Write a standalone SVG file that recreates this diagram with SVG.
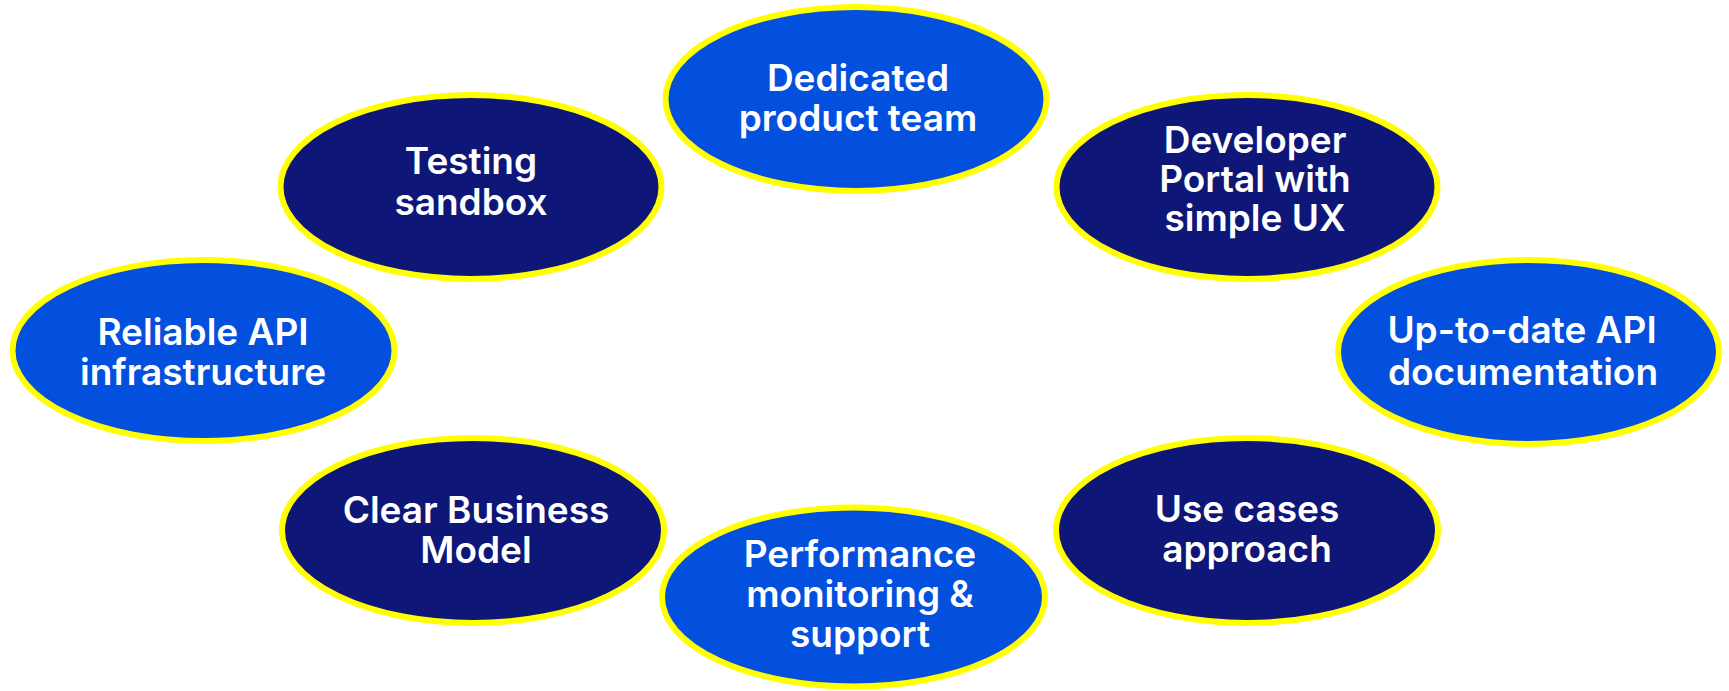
<svg xmlns="http://www.w3.org/2000/svg" width="1729" height="691" viewBox="0 0 1729 691">
<style>
.e{stroke:#FFFF00;stroke-width:6}
.lt{fill:#0350DE}
.dk{fill:#0E1777}
text{font-family:Inter,"Liberation Sans",sans-serif;font-weight:600;font-size:37px;fill:#FFFFFF;text-anchor:middle}
</style>
<rect width="1729" height="691" fill="#FFFFFF"/>
<g id="connectors"></g>
<g id="node-dedicated">
<ellipse class="e lt" cx="856" cy="99" rx="190.5" ry="92"/>
<text x="858" y="91">Dedicated</text>
<text x="858" y="131">product team</text>
</g>
<g id="node-testing">
<ellipse class="e dk" cx="471" cy="187" rx="190.5" ry="92"/>
<text x="471" y="174">Testing</text>
<text x="471" y="215">sandbox</text>
</g>
<g id="node-developer">
<ellipse class="e dk" cx="1247" cy="187" rx="190.5" ry="92"/>
<text x="1255" y="153">Developer</text>
<text x="1255" y="192">Portal with</text>
<text x="1255" y="231">simple UX</text>
</g>
<g id="node-reliable">
<ellipse class="e lt" cx="203.5" cy="350.5" rx="191" ry="90.5"/>
<text x="203" y="345">Reliable API</text>
<text x="203" y="385">infrastructure</text>
</g>
<g id="node-uptodate">
<ellipse class="e lt" cx="1528.5" cy="352" rx="190.5" ry="92"/>
<text x="1522" y="343">Up-to-date API</text>
<text x="1523" y="385">documentation</text>
</g>
<g id="node-clear">
<ellipse class="e dk" cx="473" cy="530.5" rx="191" ry="92.5"/>
<text x="476" y="523">Clear Business</text>
<text x="476" y="563">Model</text>
</g>
<g id="node-usecases">
<ellipse class="e dk" cx="1247" cy="530.5" rx="191" ry="92.5"/>
<text x="1247" y="522">Use cases</text>
<text x="1247" y="562">approach</text>
</g>
<g id="node-performance">
<ellipse class="e lt" cx="853.5" cy="597" rx="191.5" ry="89.5"/>
<text x="860" y="567">Performance</text>
<text x="860" y="607">monitoring &amp;</text>
<text x="860" y="647">support</text>
</g>
</svg>
